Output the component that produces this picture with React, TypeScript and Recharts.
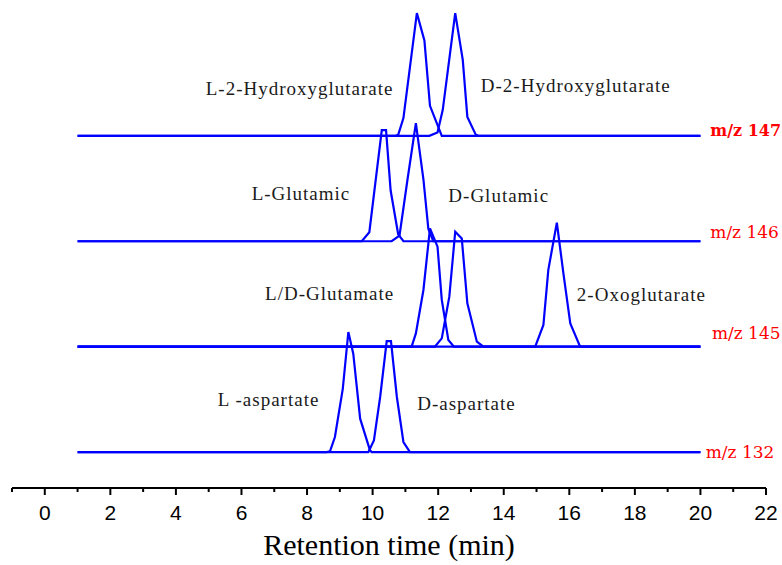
import React from 'react';
import { LineChart, Line, XAxis, YAxis, ReferenceDot } from 'recharts';

// retention time axis
const TIME_TICKS = [-1, 0, 1, 2, 3, 4, 5, 6, 7, 8, 9, 10, 11, 12, 13, 14, 15, 16, 17, 18, 19, 20, 21, 22];
const RUN_START = 1;
const RUN_END = 20;

// vertical offsets of the stacked ion traces (m/z 147, 146, 145, 132)
const MZ_LABELS = ['m/z 147', 'm/z 146', 'm/z 145', 'm/z 132'];
const MZ_OFFSETS = [255, 170, 85, 0];
const MZ_LABEL_T = [20.3, 20.3, 20.35, 20.16];
const MZ_LABEL_V = [254.8, 172.6, 91.1, -4.8];
const MZ_BOLD = [true, false, false, false];

// peaks: retention time (min) and intensity above baseline
const L2HG_T = [10.7, 10.78, 10.94, 11.35, 11.58, 11.75, 12.11];
const L2HG_I = [0, 0.8, 14.3, 99, 76.9, 24.2, 0];
const D2HG_T = [11.73, 11.98, 12.14, 12.52, 12.75, 12.89, 13.15, 13.23];
const D2HG_I = [0, 2.7, 21, 99, 61.3, 15.3, 0.8, 0];

const LGLU_T = [9.67, 9.9, 10.28, 10.41, 10.55, 10.78, 10.94];
const LGLU_I = [0, 7.3, 89.6, 89.6, 40.9, 5.6, 0];
const DGLU_T = [10.58, 10.82, 11.06, 11.32, 11.55, 11.7, 11.85];
const DGLU_I = [0, 4.6, 49, 95.2, 50, 10, 0];

const LGLUTAMATE_T = [11.19, 11.32, 11.55, 11.75, 11.98, 12.11, 12.31, 12.48];
const LGLUTAMATE_I = [0, 10.7, 45.7, 95.4, 80.6, 37.7, 5.4, 0];
const DGLUTAMATE_T = [11.9, 12.11, 12.34, 12.52, 12.72, 12.89, 13.18, 13.38];
const DGLUTAMATE_I = [0, 6.7, 40.3, 92.7, 87.3, 34.9, 4, 0];
const OXO_T = [14.96, 15.21, 15.36, 15.62, 15.82, 16.03, 16.33];
const OXO_I = [0, 17.5, 61.9, 100, 59.1, 18.8, 0];

const LASP_T = [8.6, 8.7, 8.85, 9.09, 9.26, 9.41, 9.62, 9.92, 9.97];
const LASP_I = [0, 0.6, 12.1, 51, 96.8, 79.3, 26.9, 1.4, 0];
const DASP_T = [9.87, 10.04, 10.23, 10.43, 10.56, 10.74, 10.94, 11.14];
const DASP_I = [0, 9.4, 44.4, 89.5, 89.5, 44.4, 8.1, 0];

// compound annotations
const NAMES = ['L-2-Hydroxyglutarate', 'D-2-Hydroxyglutarate', 'L-Glutamic', 'D-Glutamic', 'L/D-Glutamate', '2-Oxoglutarate', 'L -aspartate', 'D-aspartate'];
const NAME_T = [4.91, 13.3, 6.31, 12.31, 6.72, 16.23, 5.28, 11.36];
const NAME_V = [287.9, 290.6, 203.2, 201.4, 122.6, 122.0, 37.1, 33.9];

const buildTrace = (times: number[], values: number[], offset: number) => [
  { t: RUN_START, v: offset },
  ...times.map((t, k) => ({ t, v: offset + values[k] })),
  { t: RUN_END, v: offset },
];

const traces = [
  buildTrace(L2HG_T, L2HG_I, MZ_OFFSETS[0]),
  buildTrace(D2HG_T, D2HG_I, MZ_OFFSETS[0]),
  buildTrace(LGLU_T, LGLU_I, MZ_OFFSETS[1]),
  buildTrace(DGLU_T, DGLU_I, MZ_OFFSETS[1]),
  buildTrace(LGLUTAMATE_T, LGLUTAMATE_I, MZ_OFFSETS[2]),
  buildTrace(DGLUTAMATE_T, DGLUTAMATE_I, MZ_OFFSETS[2]),
  buildTrace(OXO_T, OXO_I, MZ_OFFSETS[2]),
  buildTrace(LASP_T, LASP_I, MZ_OFFSETS[3]),
  buildTrace(DASP_T, DASP_I, MZ_OFFSETS[3]),
];

function TimeTick(props: any) {
  const { x, y, payload } = props;
  const major = payload.value % 2 === 0;
  return (
    <g>
      <line x1={x} x2={x} y1={y} y2={y + (major ? 7 : 4)} stroke="#000" strokeWidth={2} />
      {major && (
        <text x={x} y={y + 32} textAnchor="middle" fontFamily="Liberation Sans, Arial, sans-serif" fontSize={21} fill="#000">
          {payload.value}
        </text>
      )}
    </g>
  );
}

const nameLabel = (text: string) => (props: any) => (
  <text x={props.viewBox.x} y={props.viewBox.y} fontFamily="Liberation Serif, Times New Roman, serif" fontSize={19} letterSpacing={1} fill="#1a1a1a">
    {text}
  </text>
);

const mzLabel = (text: string, bold: boolean) => (props: any) => (
  <text x={props.viewBox.x} y={props.viewBox.y} fontFamily="DejaVu Serif, serif" fontSize={bold ? 16 : 17} fontWeight={bold ? 'bold' : 'normal'} fill="#ff0000">
    {text}
  </text>
);

export default function App() {
  return (
    <div style={{ position: 'absolute', left: 0, top: 0 }}>
      <LineChart width={782} height={565} margin={{ top: 10, right: 16, left: 12, bottom: 7 }}>
        <XAxis
          type="number"
          dataKey="t"
          domain={[-1, 22]}
          ticks={TIME_TICKS}
          allowDataOverflow
          height={70}
          tickSize={0}
          tickMargin={0}
          tickLine={false}
          tick={<TimeTick />}
          interval={0}
          axisLine={{ stroke: '#000', strokeWidth: 2 }}
          label={(p: any) => (
            <text x={p.viewBox.x + p.viewBox.width / 2} y={p.viewBox.y + 67} textAnchor="middle" fontFamily="Liberation Serif, Times New Roman, serif" fontSize={30} fill="#000">
              Retention time (min)
            </text>
          )}
        />
        <YAxis hide type="number" domain={[-29, 356.5]} allowDataOverflow />
        {traces.map((d, k) => (
          <Line
            key={k}
            data={d}
            dataKey="v"
            type="linear"
            stroke="#0000ff"
            strokeWidth={2.2}
            dot={false}
            activeDot={false}
            isAnimationActive={false}
          />
        ))}
        {NAMES.map((n, k) => (
          <ReferenceDot key={n} x={NAME_T[k]} y={NAME_V[k]} r={0} fill="none" stroke="none" ifOverflow="visible" label={nameLabel(n)} />
        ))}
        {MZ_LABELS.map((n, k) => (
          <ReferenceDot key={n} x={MZ_LABEL_T[k]} y={MZ_LABEL_V[k]} r={0} fill="none" stroke="none" ifOverflow="visible" label={mzLabel(n, MZ_BOLD[k])} />
        ))}
      </LineChart>
    </div>
  );
}
